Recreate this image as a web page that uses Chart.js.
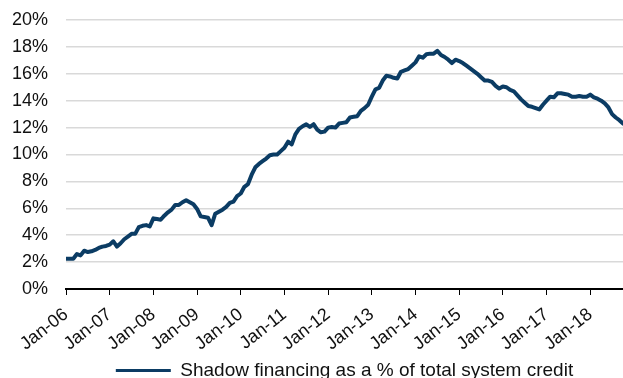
<!DOCTYPE html>
<html>
<head>
<meta charset="utf-8">
<script src="https://cdn.jsdelivr.net/npm/chart.js@4/dist/chart.umd.min.js"></script>
<style>
  html, body { margin: 0; padding: 0; background: #fff; }
  #wrap { width: 623px; height: 378px; }
</style>
</head>
<body>
<div id="wrap"><canvas id="chart" width="623" height="378"></canvas></div>
<script>
// Monthly readings, Jan-06 .. Oct-18 (index 0 = Jan-06)
var shadowShare = [
    // 2006
    2.25, 2.25, 2.25, 2.6, 2.5, 2.85, 2.75, 2.8, 2.9, 3.05, 3.15, 3.2,
    // 2007
    3.3, 3.55, 3.15, 3.4, 3.7, 3.9, 4.1, 4.1, 4.6, 4.7, 4.75, 4.65,
    // 2008
    5.25, 5.2, 5.15, 5.45, 5.7, 5.9, 6.25, 6.25, 6.45, 6.6, 6.45, 6.3,
    // 2009
    5.95, 5.4, 5.35, 5.3, 4.75, 5.6, 5.75, 5.9, 6.1, 6.4, 6.5, 6.9,
    // 2010
    7.1, 7.6, 7.8, 8.5, 9.05, 9.3, 9.5, 9.7, 9.95, 10.0, 10.0, 10.25,
    // 2011
    10.5, 10.95, 10.75, 11.5, 11.9, 12.1, 12.25, 12.05, 12.25, 11.85, 11.65, 11.7,
    // 2012
    12.0, 12.05, 12.0, 12.3, 12.35, 12.4, 12.75, 12.8, 12.85, 13.25, 13.45, 13.7,
    // 2013
    14.3, 14.85, 14.95, 15.5, 15.85, 15.8, 15.7, 15.65, 16.15, 16.25, 16.35, 16.6,
    // 2014
    16.85, 17.3, 17.2, 17.45, 17.5, 17.5, 17.7, 17.4, 17.25, 17.05, 16.8, 17.05,
    // 2015
    16.95, 16.8, 16.6, 16.4, 16.2, 16.0, 15.75, 15.5, 15.5, 15.4, 15.1, 14.9,
    // 2016
    15.05, 15.0, 14.8, 14.7, 14.4, 14.1, 13.85, 13.6, 13.55, 13.45, 13.35, 13.7,
    // 2017
    14.0, 14.3, 14.25, 14.55, 14.55, 14.5, 14.45, 14.3, 14.3, 14.35, 14.3, 14.3,
    // 2018
    14.45, 14.25, 14.15, 14.0, 13.8, 13.5, 13.0, 12.75, 12.55, 12.3
];

var tickLabels = ['Jan-06', 'Jan-07', 'Jan-08', 'Jan-09', 'Jan-10', 'Jan-11', 'Jan-12',
                  'Jan-13', 'Jan-14', 'Jan-15', 'Jan-16', 'Jan-17', 'Jan-18'];

var yTicks = [0, 2, 4, 6, 8, 10, 12, 14, 16, 18, 20];

var seriesName = 'Shadow financing as a % of total system credit';
var navy = '#0b3c64';
var fontFamily = '"Liberation Sans", Arial, Helvetica, sans-serif';

var points = shadowShare.map(function (v, i) { return { x: i, y: v }; });

var ctx = document.getElementById('chart').getContext('2d');
var chart = new Chart(ctx, {
    type: 'line',
    data: {
        datasets: [{
            label: seriesName,
            data: points,
            borderColor: navy,
            backgroundColor: navy,
            borderWidth: 4,
            pointRadius: 0,
            tension: 0,
            borderJoinStyle: 'round',
            borderCapStyle: 'round'
        }]
    },
    options: {
        responsive: false,
        animation: false,
        layout: { padding: { top: 20, right: 0, left: 12, bottom: -12 } },
        plugins: {
            tooltip: { enabled: false },
            legend: {
                position: 'bottom',
                fullSize: false,
                labels: {
                    color: '#111',
                    font: { family: fontFamily, size: 19 },
                    boxWidth: 55,
                    boxHeight: 3,
                    padding: 0,
                    generateLabels: function (c) {
                        var items = Chart.defaults.plugins.legend.labels.generateLabels(c);
                        items.forEach(function (it) { it.lineWidth = 0; });
                        return items;
                    }
                }
            }
        },
        scales: {
            x: {
                type: 'linear',
                min: 0,
                max: shadowShare.length - 1,
                border: { display: true, color: '#000', width: 2 },
                grid: {
                    display: true,
                    drawOnChartArea: false,
                    drawTicks: true,
                    tickLength: 6,
                    tickColor: '#000',
                    tickWidth: 1
                },
                ticks: {
                    stepSize: 12,
                    includeBounds: false,
                    autoSkip: false,
                    minRotation: 38,
                    maxRotation: 38,
                    color: '#111',
                    padding: 9,
                    font: { family: fontFamily, size: 18 },
                    callback: function (v) {
                        var k = Math.round(v / 12);
                        return (v % 12 === 0 && tickLabels[k]) ? tickLabels[k] : '';
                    }
                },
                // keep the rotated first label from widening the left margin
                afterFit: function (s) {
                    s.paddingLeft = 0;
                    s.height = 72;
                }
            },
            y: {
                min: yTicks[0],
                max: yTicks[yTicks.length - 1],
                border: { display: false },
                grid: {
                    color: '#d9d9d9',
                    lineWidth: 1.5,
                    drawTicks: false
                },
                ticks: {
                    stepSize: 2,
                    padding: 18,
                    color: '#111',
                    font: { family: fontFamily, size: 18 },
                    callback: function (v) { return v + '%'; }
                },
                // label column plus gap; top/bottom label overhang handled by layout padding
                afterFit: function (s) {
                    s.width = 54;
                    s.paddingTop = 0;
                    s.paddingBottom = 0;
                }
            }
        }
    }
});
</script>
</body>
</html>
